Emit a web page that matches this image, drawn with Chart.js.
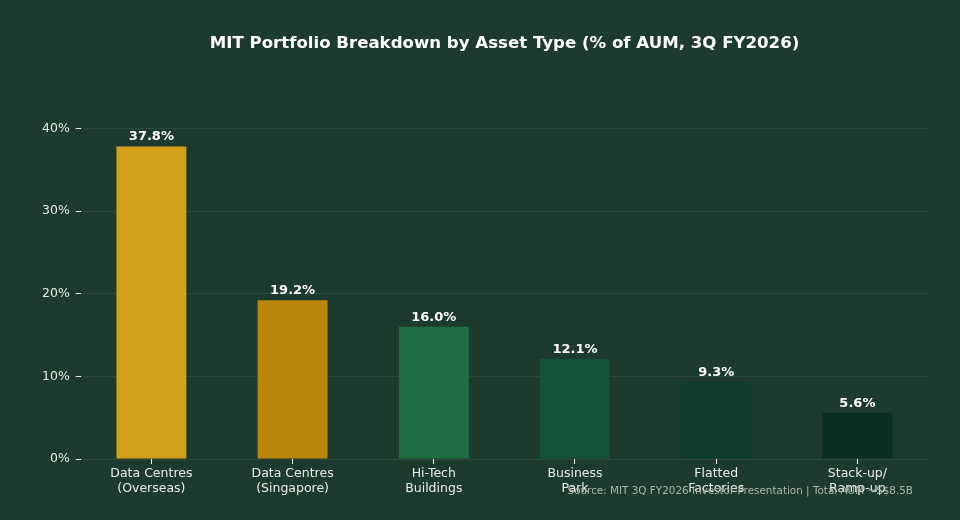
<!DOCTYPE html>
<html><head><meta charset="utf-8">
<script src="https://cdn.jsdelivr.net/npm/chart.js@4.4.1/dist/chart.umd.min.js"></script>
<style>html,body{margin:0;padding:0;background:#1c3a2d;}#wrap{width:960px;height:520px;position:relative;}</style>
</head><body><div id="wrap"><canvas id="c" width="960" height="520"></canvas></div>
<script>
const categories = [["Data Centres","(Overseas)"],["Data Centres","(Singapore)"],["Hi-Tech","Buildings"],["Business","Park"],["Flatted","Factories"],["Stack-up/","Ramp-up"]];
const shares = [37.8, 19.2, 16.0, 12.1, 9.3, 5.6];
const barColors = ["#d4a11a","#b8860b","#1f6e42","#14533a","#0f3d2c","#0a2e20"];
const yTicks = [0, 10, 20, 30, 40];
const titleText = "MIT Portfolio Breakdown by Asset Type (% of AUM, 3Q FY2026)";
const sourceText = "Source: MIT 3Q FY2026 Investor Presentation | Total AUM ~S$8.5B";

const FONT = "'DejaVu Sans', sans-serif";
const overlay = {
  id: 'overlay',
  afterDatasetsDraw(chart) {
    const ctx = chart.ctx;
    const meta = chart.getDatasetMeta(0);
    ctx.save();
    ctx.fillStyle = '#ffffff';
    ctx.font = "bold 13px " + FONT;
    ctx.textAlign = 'center';
    ctx.textBaseline = 'bottom';
    meta.data.forEach((bar, i) => {
      ctx.fillText(shares[i].toFixed(1) + '%', bar.x, bar.y - 3);
    });
    ctx.restore();
  },
  afterDraw(chart) {
    const ctx = chart.ctx;
    ctx.save();
    ctx.fillStyle = '#ffffff';
    ctx.font = "bold 16.6px " + FONT;
    ctx.textAlign = 'center';
    ctx.textBaseline = 'middle';
    ctx.fillText(titleText, 504.5, 44);
    ctx.fillStyle = '#aab6af';
    ctx.font = "10.4px " + FONT;
    ctx.textAlign = 'right';
    ctx.fillText(sourceText, 913, 491);
    ctx.restore();
  }
};

new Chart(document.getElementById('c'), {
  type: 'bar',
  data: { labels: categories, datasets: [{ data: shares, backgroundColor: barColors, barPercentage: 0.495, categoryPercentage: 1.0 }] },
  options: {
    responsive: false, animation: false,
    layout: { padding: { left: 36, right: 32, top: 87, bottom: 22 } },
    plugins: { legend: { display: false }, tooltip: { enabled: false } },
    scales: {
      x: {
        grid: { drawOnChartArea: false, offset: false, tickColor: '#ffffff', tickLength: 5 },
        border: { display: false },
        ticks: { color: '#e8ece9', font: { family: FONT, size: 12.5 }, padding: 2, maxRotation: 0 }
      },
      y: {
        min: 0, max: 45,
        afterBuildTicks(axis) { axis.ticks = yTicks.map(v => ({ value: v })); },
        grid: { color: 'rgba(255,255,255,0.07)', tickColor: '#ffffff', tickLength: 5 },
        border: { display: false },
        ticks: { color: '#e8ece9', font: { family: FONT, size: 12.5 }, padding: 6, callback: v => v + '%' }
      }
    }
  },
  plugins: [overlay]
});
</script></body></html>
